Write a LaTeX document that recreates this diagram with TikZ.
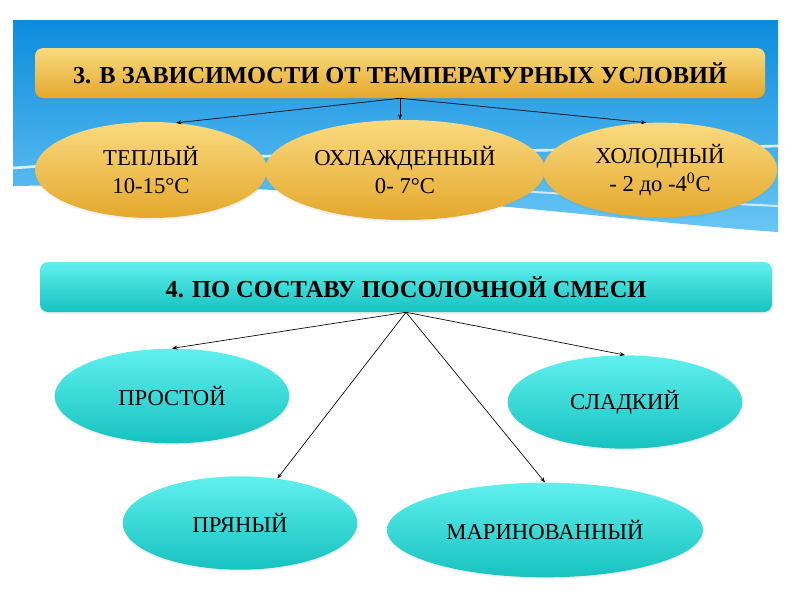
\documentclass[tikz,border=0pt]{standalone}
\usepackage{fontspec}
\setmainfont{Liberation Serif}
\usetikzlibrary{shapes.geometric,shadows,arrows.meta}

\definecolor{skyTop}{RGB}{12,140,222}
\definecolor{skyBot}{RGB}{105,198,244}
\definecolor{goldTop}{RGB}{250,218,128}
\definecolor{goldBot}{RGB}{228,168,44}
\definecolor{tealTop}{RGB}{96,240,238}
\definecolor{tealBot}{RGB}{22,194,192}

\begin{document}
\begin{tikzpicture}[x=0.75pt,y=0.75pt,yscale=-1,xscale=1,
  hdr/.style={rounded corners=6pt, minimum width=#1, minimum height=37.5pt, inner sep=0pt,
    font=\fontsize{18.3}{22}\selectfont\bfseries,
    drop shadow={opacity=0.15, shadow xshift=0pt, shadow yshift=-1.5pt}},
  oval/.style={ellipse, inner sep=0pt, align=center, font=\fontsize{17}{21}\selectfont,
    drop shadow={opacity=0.1, shadow xshift=0pt, shadow yshift=-1.5pt}},
  gold/.style={top color=goldTop, bottom color=goldBot},
  teal/.style={top color=tealTop, bottom color=tealBot},
  conn/.style={-{Stealth[length=4pt,width=3pt]}, line width=0.5pt}]

\useasboundingbox (0,0) rectangle (800,600);

\shade [top color=skyTop, bottom color=skyBot] (13,20) -- (778,20) -- (778,232) .. controls (600,220) and (350,180) .. (13,186) -- cycle;

\draw [white, line width=2pt, opacity=0.8] (13,168) .. controls (250,152) and (500,152) .. (778,146);

\draw [white, line width=1.5pt, opacity=0.7] (300,176) .. controls (500,190) and (650,200) .. (778,206);

\node (hdrA) at (400,73) [hdr=547.5pt, gold] {3. В ЗАВИСИМОСТИ ОТ ТЕМПЕРАТУРНЫХ УСЛОВИЙ};

\node (warm) at (151,170) [oval, gold, minimum width=174pt, minimum height=72pt] {ТЕПЛЫЙ\\10-15°C};

\node (cool) at (405,170) [oval, gold, minimum width=210pt, minimum height=75pt] {ОХЛАЖДЕННЫЙ\\0- 7°C};

\node (cold) at (660,170) [oval, gold, minimum width=176pt, minimum height=71pt] {ХОЛОДНЫЙ\\- 2 до -4\textsuperscript{0}C};

\node (hdrB) at (406,287) [hdr=549pt, teal] {4. ПО СОСТАВУ ПОСОЛОЧНОЙ СМЕСИ};

\node (plain) at (172,396) [oval, teal, minimum width=176pt, minimum height=71pt] {ПРОСТОЙ};

\node (sweet) at (625,402) [oval, teal, minimum width=176pt, minimum height=70pt] {СЛАДКИЙ};

\node (spicy) at (240,523) [oval, teal, minimum width=176pt, minimum height=70pt] {ПРЯНЫЙ};

\node (pickled) at (545,530) [oval, teal, minimum width=237pt, minimum height=71pt] {МАРИНОВАННЫЙ};

\draw [conn] (hdrA.south) -- (warm.62);

\draw [conn] (hdrA.south) -- (hdrA.south |- cool.north);

\draw [conn] (hdrA.south) -- (cold.106);

\draw [conn] (hdrB.south) -- (plain.north);

\draw [conn] (hdrB.south) -- (sweet.north);

\draw [conn] (hdrB.south) -- (spicy.50);

\draw [conn] (hdrB.south) -- (pickled.north);

\end{tikzpicture}
\end{document}
